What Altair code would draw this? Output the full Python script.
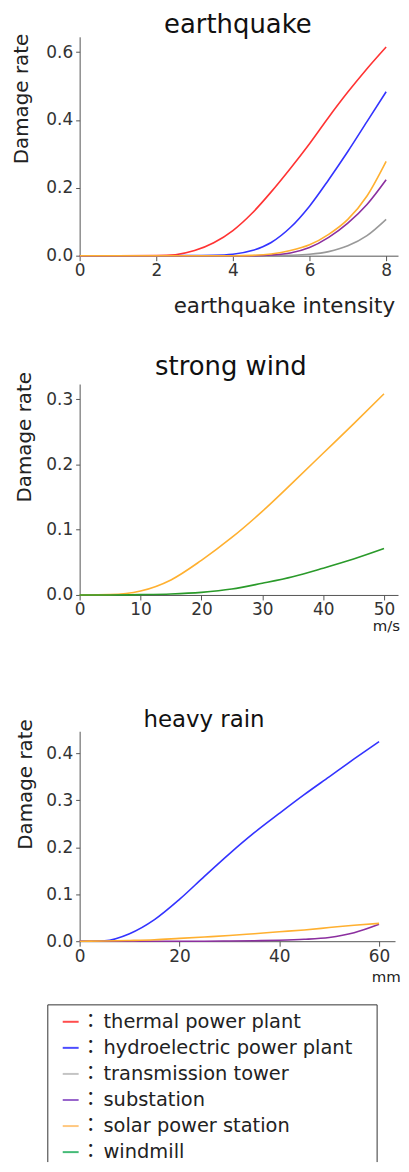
import altair as alt
import pandas as pd

FONT = "DejaVu Sans"
CJK = "DejaVu Sans, Noto Sans CJK JP"

SERIES = ["thermal power plant", "hydroelectric power plant", "transmission tower",
          "substation", "solar power station", "windmill"]
COLORS = ["#ff3333", "#3333ff", "#999999", "#8b2f9f", "#ffb030", "#2a9a2a"]
LEGEND_COLORS = ["#ff4d4d", "#4d4dff", "#c4c4c4", "#9966cc", "#ffc880", "#44bb77"]

# earthquake intensity
EQ_X = [0, 1, 2, 2.5, 3, 3.5, 4, 4.5, 5, 5.5, 6, 6.5, 7, 7.5, 8]
EQ_THERMAL = [0, 0, 0.0005, 0.003, 0.015, 0.038, 0.074, 0.125, 0.188, 0.257, 0.330, 0.408, 0.482, 0.551, 0.615]
EQ_HYDRO = [0, 0, 0, 0, 0.0005, 0.001, 0.004, 0.015, 0.039, 0.083, 0.146, 0.224, 0.307, 0.395, 0.483]
EQ_TOWER = [0, 0, 0, 0, 0, 0, 0, 0, 0, 0.001, 0.004, 0.012, 0.029, 0.059, 0.107]
EQ_SUBST = [0, 0, 0, 0, 0, 0, 0, 0, 0.002, 0.008, 0.024, 0.054, 0.096, 0.151, 0.224]
EQ_SOLAR = [0, 0, 0, 0, 0, 0, 0, 0.001, 0.005, 0.015, 0.032, 0.063, 0.107, 0.176, 0.278]

# wind speed (m/s)
WIND_X = [0, 5, 10, 15, 20, 25, 30, 35, 40, 45, 50]
WIND_SOLAR = [0, 0.0005, 0.006, 0.023, 0.053, 0.088, 0.128, 0.172, 0.217, 0.262, 0.308]
WIND_MILL = [0, 0, 0.0005, 0.0015, 0.004, 0.009, 0.018, 0.028, 0.041, 0.055, 0.071]

# rainfall (mm)
RAIN_X = [0, 5, 10, 15, 20, 25, 30, 35, 40, 45, 50, 55, 60]
RAIN_HYDRO = [0, 0.001, 0.016, 0.046, 0.089, 0.138, 0.186, 0.231, 0.272, 0.312, 0.350, 0.388, 0.425]
RAIN_SOLAR = [0, 0.0005, 0.0015, 0.003, 0.006, 0.009, 0.012, 0.016, 0.020, 0.024, 0.029, 0.034, 0.038]
RAIN_SUBST = [0, 0, 0, 0, 0, 0, 0.0005, 0.001, 0.002, 0.004, 0.008, 0.018, 0.036]


def frame(xs, series):
    rows = []
    for name, vals in series:
        for x, v in zip(xs, vals):
            rows.append({"x": x, "y": v, "series": name})
    return pd.DataFrame(rows)


eq_df = frame(EQ_X, [("thermal power plant", EQ_THERMAL), ("hydroelectric power plant", EQ_HYDRO),
                     ("transmission tower", EQ_TOWER), ("substation", EQ_SUBST),
                     ("solar power station", EQ_SOLAR)])
wind_df = frame(WIND_X, [("solar power station", WIND_SOLAR), ("windmill", WIND_MILL)])
rain_df = frame(RAIN_X, [("hydroelectric power plant", RAIN_HYDRO), ("substation", RAIN_SUBST),
                         ("solar power station", RAIN_SOLAR)])


def panel(df, title, tsize, tx, ty, xdom, xticks, ydom, yticks,
          xtitle, xtsize, xtx, xty, ytx, yty):
    lines = alt.Chart(df).mark_line(strokeWidth=1.6, interpolate="monotone").encode(
        x=alt.X("x:Q", scale=alt.Scale(domain=xdom, nice=False, zero=False),
                axis=alt.Axis(values=xticks, format="d", title=xtitle, titleFontSize=xtsize,
                              titleFontWeight="normal", titleAlign="left", titleX=xtx, titleY=xty,
                              titleBaseline="alphabetic", titleColor="#222", titleFont=FONT,
                              tickSize=5, labelPadding=2, labelFlush=False, grid=False)),
        y=alt.Y("y:Q", scale=alt.Scale(domain=ydom, nice=False),
                axis=alt.Axis(values=yticks, format=".1f", title="Damage rate", titleFontSize=20,
                              titleFontWeight="normal", titleAngle=270, titleAlign="center",
                              titleBaseline="middle", titleX=ytx, titleY=yty, titleColor="#222",
                              titleFont=FONT, tickSize=4, labelPadding=3, grid=False)),
        color=alt.Color("series:N", scale=alt.Scale(domain=SERIES, range=COLORS), legend=None),
    )
    ttl = alt.Chart(pd.DataFrame({"t": [title]})).mark_text(
        font=FONT, fontSize=tsize, align="center", baseline="alphabetic", color="#111"
    ).encode(text="t:N", x=alt.value(tx), y=alt.value(ty))
    return [lines, ttl]


# legend drawn inside the last panel (positions relative to that panel's plot origin)
leg_df = pd.DataFrame({"series": SERIES, "lc": LEGEND_COLORS})
row_y = alt.Y("series:N", axis=None,
              scale=alt.Scale(type="point", domain=SERIES, range=[292, 423], padding=0))
one = pd.DataFrame({"k": [0]})
box_top = alt.Chart(one).mark_rule(color="#333", strokeWidth=1).encode(
    x=alt.value(-32), x2=alt.value(299), y=alt.value(275))
box_left = alt.Chart(one).mark_rule(color="#333", strokeWidth=1).encode(
    x=alt.value(-32), y=alt.value(275), y2=alt.value(433))
box_right = alt.Chart(one).mark_rule(color="#333", strokeWidth=1).encode(
    x=alt.value(299), y=alt.value(275), y2=alt.value(433))
leg_lines = alt.Chart(leg_df).mark_rule(strokeWidth=2).encode(
    x=alt.value(-17), x2=alt.value(-1), y=row_y, color=alt.Color("lc:N", scale=None))
leg_colon = alt.Chart(leg_df).mark_text(
    text="：", font=CJK, fontSize=19.5, align="center", baseline="middle", color="#222"
).encode(x=alt.value(11), y=row_y)
leg_text = alt.Chart(leg_df).mark_text(
    font=FONT, fontSize=19.5, align="left", baseline="middle", color="#222"
).encode(x=alt.value(24), y=row_y, text="series:N")

l1 = panel(eq_df, "earthquake", 26, 159, -4, [0, 8.31], [0, 2, 4, 6, 8], [0, 0.645],
           [0, 0.2, 0.4, 0.6], "earthquake intensity", 21.5, 94, 57, -58, 62)
l2 = panel(wind_df, "strong wind", 26, 152, -9.3, [0, 52.3], [0, 10, 20, 30, 40, 50],
           [0, 0.323], [0, 0.1, 0.2, 0.3], "m/s", 15, 294, 36, -55, 53)
l3 = panel(rain_df, "heavy rain", 23, 125, -4.3, [0, 63.2], [0, 20, 40, 60], [0, 0.447],
           [0, 0.1, 0.2, 0.3, 0.4], "mm", 15, 293, 41, -54, 53)

p1 = alt.layer(*l1).properties(width=320, height=220)
p2 = alt.layer(*l2).properties(width=320, height=212)
p3 = alt.layer(*l3, box_top, box_left, box_right, leg_lines, leg_colon, leg_text).resolve_scale(
    y="independent").properties(width=317, height=211)

chart = alt.vconcat(alt.vconcat(p1, p2, spacing=36), p3, spacing=74).properties(
    padding={"left": 3, "top": 0, "right": 0, "bottom": 0}
).configure_view(stroke="transparent").configure_axis(
    domainColor="#555", tickColor="#555", labelColor="#333", labelFontSize=17, labelFont=FONT
)

chart.save("out.html", embed_options={"renderer": "svg", "actions": False})
